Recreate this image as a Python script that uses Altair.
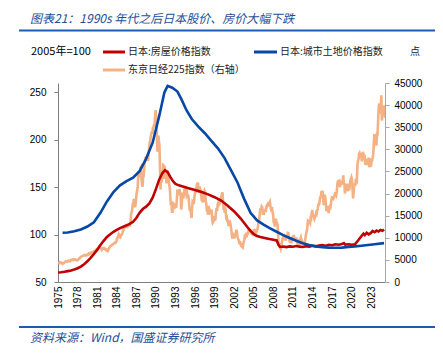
import altair as alt
import pandas as pd

# ---------------- data ----------------
house_years = [1975.0, 1975.5, 1976.0, 1976.5, 1977.0, 1977.5, 1978.0, 1978.5, 1979.0, 1979.5,
               1980.0, 1980.5, 1981.0, 1981.5, 1982.0, 1982.5, 1983.0, 1983.5, 1984.0, 1984.5,
               1985.0, 1985.5, 1986.0, 1986.5, 1987.0, 1987.5, 1988.0, 1988.5, 1989.0, 1989.5,
               1990.0, 1990.5, 1991.0, 1991.4, 1991.8, 1992.2, 1992.6, 1993.0, 1993.5, 1994.0,
               1995.0, 1996.0, 1997.0, 1998.0, 1999.0, 2000.0, 2001.0, 2002.0, 2003.0, 2004.0,
               2004.5, 2005.0, 2005.5, 2006.0, 2007.0, 2008.0, 2008.5, 2008.8, 2009.0, 2009.5,
               2010.0, 2010.5, 2011.0, 2011.5, 2012.0, 2012.5, 2013.0, 2013.5, 2014.0, 2014.5,
               2015.0, 2015.5, 2016.0, 2016.5, 2017.0, 2017.5, 2018.0, 2018.5, 2018.8, 2019.0,
               2019.5, 2020.0, 2020.5, 2021.0, 2021.5, 2021.8, 2022.0, 2022.3, 2022.6, 2022.9,
               2023.2, 2023.5, 2023.8, 2024.1, 2024.4, 2024.7, 2024.95]
house_values = [60.0, 60.3, 60.8, 61.5, 62.2, 63.2, 64.5, 66.3, 68.8, 71.8,
                75.5, 79.5, 84.0, 89.0, 93.5, 97.5, 100.5, 103.0, 105.0, 106.8,
                108.3, 109.8, 111.3, 113.5, 117.5, 123.0, 127.0, 129.5, 133.0, 139.0,
                148.0, 158.0, 165.0, 168.0, 166.0, 161.0, 156.5, 153.5, 152.0, 151.0,
                149.0, 147.0, 145.0, 142.5, 139.5, 136.0, 130.5, 124.5, 117.0, 108.0,
                104.0, 100.5, 98.5, 97.5, 96.0, 94.5, 93.8, 89.0, 87.0, 87.5,
                86.8, 87.6, 87.2, 88.0, 87.3, 86.9, 87.8, 87.4, 88.2, 87.6,
                88.4, 88.9, 88.3, 89.2, 88.8, 89.8, 89.3, 90.2, 91.0, 89.5,
                89.8, 89.2, 89.8, 94.0, 98.5, 101.0, 99.5, 102.0, 100.3, 101.5,
                103.8, 102.5, 104.2, 103.2, 104.8, 104.0, 105.5]

land_years = [1975.7, 1976.5, 1977.5, 1978.5, 1979.5, 1980.5, 1981.5, 1982.5, 1983.5, 1984.5,
              1985.5, 1986.5, 1987.5, 1988.5, 1989.5, 1990.5, 1991.3, 1991.8, 1992.5, 1993.3,
              1993.9, 1994.7, 1995.5, 1996.5, 1997.5, 1998.5, 1999.5, 2000.5, 2001.5, 2002.5,
              2003.5, 2004.5, 2005.5, 2006.5, 2007.5, 2008.5, 2009.5, 2010.5, 2011.5, 2012.5,
              2013.5, 2014.5, 2015.5, 2016.5, 2017.5, 2018.5, 2019.5, 2020.5, 2021.5, 2022.5,
              2023.5, 2024.95]
land_values = [102.0, 102.3, 103.5, 105.5, 108.5, 113.0, 123.0, 135.0, 145.0, 152.0,
               156.5, 160.0, 167.0, 180.0, 197.0, 225.0, 250.0, 257.0, 255.0, 251.0,
               243.0, 231.0, 222.0, 214.0, 207.0, 199.0, 191.0, 181.0, 168.0, 155.0,
               138.0, 123.0, 115.0, 110.5, 106.5, 103.0, 99.5, 96.5, 93.5, 91.0,
               89.0, 87.6, 86.8, 86.3, 86.1, 86.3, 86.9, 87.6, 88.3, 89.1,
               89.9, 91.0]

nikkei_first_year = 1975
nikkei_monthly = [
    [4100, 4200, 4400, 4500, 4400, 4300, 4350, 4250, 4100, 4200, 4300, 4360],
    [4500, 4600, 4700, 4650, 4600, 4700, 4800, 4750, 4700, 4650, 4700, 4990],
    [5000, 4950, 5050, 5100, 5000, 5150, 5100, 5050, 5100, 4950, 4900, 4860],
    [5000, 5100, 5300, 5400, 5500, 5600, 5700, 5800, 5850, 5900, 5950, 6000],
    [6100, 6050, 6000, 6000, 6100, 6200, 6100, 6250, 6400, 6300, 6350, 6570],
    [6600, 6650, 6500, 6650, 6800, 6900, 7000, 7050, 7100, 7150, 7300, 7110],
    [7300, 7400, 7500, 7800, 7950, 7850, 7700, 7600, 7300, 7500, 7600, 7680],
    [7700, 7600, 7400, 7300, 7200, 7300, 7100, 7000, 7200, 7500, 7800, 8020],
    [8100, 8200, 8300, 8400, 8500, 8600, 8700, 8750, 8900, 8850, 9000, 9200],
    [9800, 10000, 10400, 10700, 10200, 10200, 10100, 10500, 10700, 10800, 11100, 11540],
    [11800, 12200, 12500, 12400, 12500, 12800, 12700, 12500, 12600, 12700, 12800, 13110],
    [13000, 13600, 15500, 15800, 16500, 17600, 17800, 18800, 17800, 16900, 17400, 18700],
    [20000, 20700, 21500, 24000, 25000, 24200, 24500, 25800, 26000, 23300, 22200, 21560],
    [23700, 24000, 25800, 27000, 28000, 28000, 28200, 27400, 27900, 27400, 28900, 30160],
    [31500, 32000, 32800, 33500, 34000, 33500, 34900, 35000, 35500, 35500, 37300, 38900],
    [37200, 34600, 29900, 29500, 33100, 31900, 31000, 25900, 20900, 25200, 22500, 23850],
    [23300, 26400, 26300, 26100, 25800, 23300, 23800, 22300, 23900, 25200, 22700, 22980],
    [22000, 21300, 19300, 17400, 18300, 15900, 15900, 18100, 17400, 16800, 17700, 16900],
    [17000, 17000, 18600, 20900, 20500, 19600, 20400, 21000, 20100, 19700, 16400, 17400],
    [20200, 19100, 19100, 19700, 20900, 21600, 20400, 20600, 19600, 19900, 19100, 19700],
    [18600, 17000, 16100, 16800, 15400, 14500, 16700, 18100, 17900, 17600, 18700, 19870],
    [20800, 20100, 21400, 22000, 21900, 22500, 20700, 20200, 21600, 20500, 21000, 19400],
    [18300, 18600, 18000, 19200, 20100, 20600, 20300, 18200, 17900, 16500, 16600, 15260],
    [16600, 16800, 16500, 15600, 15700, 15800, 16400, 14100, 13400, 13600, 14900, 13840],
    [14500, 14400, 15800, 16700, 16100, 17500, 17900, 17400, 17600, 17900, 18600, 18930],
    [19500, 19900, 20300, 17900, 16300, 17400, 15700, 16900, 15700, 14500, 14600, 13790],
    [13800, 12900, 12900, 13900, 13300, 12900, 11900, 10700, 9800, 10400, 10700, 10540],
    [9900, 10600, 11000, 11500, 11800, 10600, 10000, 9600, 9400, 8600, 9200, 8580],
    [8300, 8400, 7970, 7830, 8420, 9080, 9560, 10340, 10220, 10560, 10100, 10680],
    [10780, 11040, 11720, 11760, 11240, 11860, 11330, 11080, 10820, 10770, 10900, 11490],
    [11390, 11740, 11670, 11010, 11280, 11580, 11900, 12410, 13570, 13600, 14870, 16110],
    [16650, 16200, 17060, 16900, 15470, 15500, 15460, 16140, 16130, 16400, 16270, 17230],
    [17380, 17600, 17290, 17400, 17880, 18140, 17250, 16570, 16790, 16740, 15680, 15310],
    [13590, 13600, 12530, 13850, 14340, 13480, 13380, 13070, 11260, 8580, 8510, 8860],
    [7990, 7570, 8110, 8830, 9520, 9960, 10360, 10490, 10130, 10030, 9350, 10550],
    [10200, 10130, 11090, 11060, 9770, 9380, 9540, 8820, 9370, 9200, 9940, 10230],
    [10240, 10620, 9760, 9850, 9690, 9820, 9830, 8950, 8700, 8990, 8430, 8460],
    [8800, 9720, 10080, 9520, 8540, 9010, 8700, 8840, 8870, 8930, 9450, 10400],
    [11140, 11560, 12400, 13860, 13770, 13680, 13670, 13390, 14460, 14330, 15660, 16290],
    [14910, 14840, 14830, 14300, 14630, 15160, 15620, 15420, 16170, 16410, 17460, 17450],
    [17670, 18800, 19210, 19520, 20560, 20240, 20590, 18890, 17390, 19080, 19750, 19030],
    [17520, 16030, 16760, 16670, 17230, 15580, 16570, 16890, 16450, 17430, 18310, 19110],
    [19040, 19120, 18910, 19200, 19650, 20030, 19930, 19650, 20360, 22010, 22720, 22760],
    [23100, 22070, 21450, 22470, 22200, 22300, 22550, 22870, 24120, 21920, 22350, 20010],
    [20770, 21390, 21200, 22260, 20600, 21280, 21520, 20700, 21760, 22930, 23290, 23660],
    [23200, 21140, 18920, 20190, 21880, 22290, 21710, 23140, 23190, 22980, 26430, 27440],
    [27660, 28970, 29180, 28810, 28860, 28790, 27280, 28090, 29450, 28890, 27820, 28790],
    [27000, 26530, 27820, 26850, 27280, 26390, 27800, 28090, 25940, 27590, 27970, 26090],
    [27330, 27450, 28040, 28860, 30890, 33190, 33170, 32620, 31860, 30860, 33490, 33460],
    [36290, 39170, 40370, 38400, 38490, 39580, 42200, 36500, 37920, 39080, 38210, 39890],
    [39570, 37160],
]

x_ticks = list(range(1975, 2024, 3))
left_ticks = [50, 100, 150, 200, 250]
right_ticks = list(range(0, 45001, 5000))

series_names = ["日本:房屋价格指数", "日本:城市土地价格指数", "东京日经225指数（右轴）"]
series_colors = ["#C00000", "#0747A6", "#F4B183"]
title_text = "图表21：1990s 年代之后日本股价、房价大幅下跌"
source_text = "资料来源：Wind，国盛证券研究所"
left_unit = "2005年=100"
right_unit = "点"

# ---------------- tables ----------------
left_df = pd.concat([
    pd.DataFrame({"year": house_years, "value": house_values, "series": series_names[0]}),
    pd.DataFrame({"year": land_years, "value": land_values, "series": series_names[1]}),
])
nk_rows = []
for i, vals in enumerate(nikkei_monthly):
    for m, v in enumerate(vals):
        nk_rows.append({"year": nikkei_first_year + i + (m + 0.5) / 12, "value": v})
nk_df = pd.DataFrame(nk_rows)

W, H = 327, 199
FONT = "Liberation Sans"
CJK = "Noto Sans CJK SC"
xscale = alt.Scale(domain=[1975, 2025.1], nice=False, zero=False)
x_axis = alt.Axis(values=x_ticks, format="d", labelAngle=-90, ticks=False,
                  labelPadding=4, title=None, grid=False, labelFontSize=10,
                  labelFont=FONT, labelColor="#000", domainColor="#7f7f7f")

nk_line = alt.Chart(nk_df).mark_line(strokeWidth=2.6, color=series_colors[2], clip=True).encode(
    x=alt.X("year:Q", scale=xscale, axis=x_axis),
    y=alt.Y("value:Q", scale=alt.Scale(domain=[0, 45000], nice=False),
            axis=alt.Axis(orient="right", values=right_ticks, format="d", title=None, grid=False,
                          tickSize=4, labelPadding=5, labelFontSize=10, labelFont=FONT,
                          labelColor="#000", domainColor="#a6a6a6", tickColor="#a6a6a6")),
)

left_lines = alt.Chart(left_df).mark_line(strokeWidth=2.6, clip=True).encode(
    x=alt.X("year:Q", scale=xscale, axis=x_axis),
    y=alt.Y("value:Q", scale=alt.Scale(domain=[50, 260], nice=False),
            axis=alt.Axis(orient="left", values=left_ticks, format="d", title=None, grid=False,
                          tickSize=4, labelPadding=8, labelFontSize=10, labelFont=FONT,
                          labelColor="#000", domainColor="#7f7f7f", tickColor="#7f7f7f")),
    color=alt.Color("series:N", scale=alt.Scale(domain=series_names[:2], range=series_colors[:2]),
                    legend=None),
)

one = alt.Data(values=[{"a": 1}])


def text(t, x, y, size, color="#000", style="normal", font=CJK, align="left"):
    return alt.Chart(one).mark_text(text=t, fontSize=size, color=color, fontStyle=style,
                                    font=font, align=align, baseline="middle").encode(
        x=alt.value(x), y=alt.value(y))


def hrule(x1, x2, y, color, width):
    return alt.Chart(one).mark_rule(color=color, strokeWidth=width).encode(
        x=alt.value(x1), x2=alt.value(x2), y=alt.value(y))


deco = [
    text(title_text, -28, -64.5, 12, color="#1F4E9A", style="italic"),
    hrule(-39, 377, -52.5, "#1F5BB0", 2),
    text(left_unit, -27, -31, 11, font=CJK),
    hrule(45, 67, -31, series_colors[0], 3),
    text(series_names[0], 70, -31, 10, color="#222"),
    hrule(196, 219, -31, series_colors[1], 3),
    text(series_names[1], 222, -31, 10, color="#222"),
    hrule(45, 67, -13, series_colors[2], 3),
    text(series_names[2], 70, -13, 10, color="#222"),
    text(right_unit, 352, -31, 10, color="#222"),
    hrule(-39, 377, 244, "#1F5BB0", 2),
    text(source_text, -28, 254.5, 12, color="#1F4E9A", style="italic"),
]

chart = alt.layer(nk_line, left_lines, *deco).resolve_scale(
    y="independent", color="independent"
).properties(
    width=W, height=H,
    autosize=alt.AutoSizeParams(type="none"),
    padding={"left": 50, "top": 75, "right": 50, "bottom": 66},
).configure_view(stroke=None)

chart.save("out.html", embed_options={"renderer": "svg", "actions": False})
